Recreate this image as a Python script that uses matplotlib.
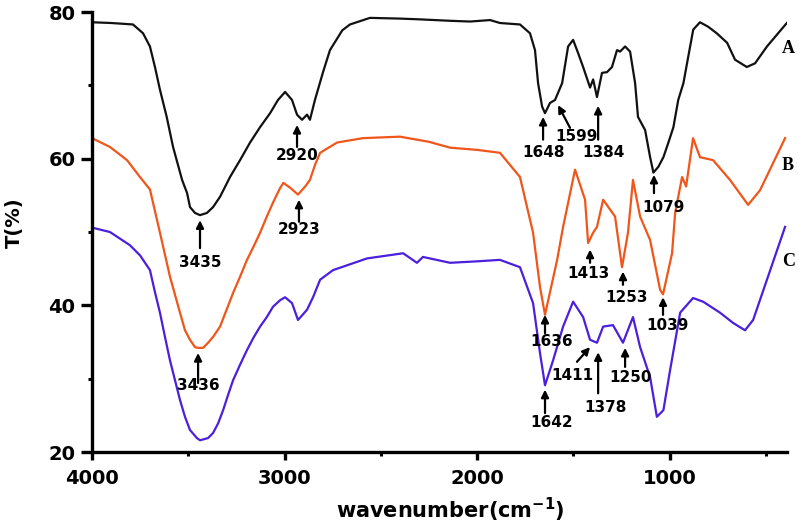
import matplotlib
matplotlib.use("Agg")
import matplotlib.pyplot as plt
from matplotlib.ticker import MultipleLocator

# ---------------- data ----------------
A_wn = [4000, 3900, 3787, 3735, 3699, 3673, 3647, 3612, 3579, 3532, 3506, 3491, 3465, 3439, 3403,
        3371, 3335, 3283, 3231, 3179, 3127, 3075, 3034,
        2997, 2961, 2935, 2909, 2883, 2868, 2842, 2800, 2764, 2700, 2660, 2556, 2400, 2300, 2140, 2036,
        1932, 1881, 1777, 1725, 1699, 1683, 1662, 1647, 1621, 1595, 1558, 1527, 1501, 1475, 1449,
        1413, 1397, 1377, 1351, 1325, 1299, 1273, 1257, 1231, 1205, 1179, 1164, 1127, 1101, 1084,
        1058, 1032, 1006, 980, 955, 928, 903, 877, 842, 800, 755, 701, 660, 599, 556, 494, 391]
A_T = [78.6, 78.5, 78.3, 77.1, 75.3, 72.5, 69.4, 65.7, 61.6, 57.1, 55.3, 53.4, 52.6, 52.3, 52.6,
       53.4, 54.8, 57.5, 59.8, 62.2, 64.3, 66.2, 68.0,
       69.1, 68.0, 66.0, 65.3, 66.0, 65.3, 68.0, 71.8, 74.8, 77.5, 78.3, 79.2, 79.1, 79.0, 78.8, 78.7,
       78.9, 78.5, 78.3, 77.1, 74.8, 70.3, 67.1, 66.2, 67.6, 68.0, 70.3, 75.3, 76.2, 74.4, 72.5,
       69.7, 70.8, 68.4, 71.7, 71.8, 72.5, 74.8, 74.6, 75.3, 74.6, 70.3, 65.7, 63.9, 60.2, 58.1,
       58.9, 60.2, 62.2, 64.3, 68.0, 70.3, 73.9, 77.6, 78.6, 78.0, 77.1, 75.8, 73.5, 72.5, 73.0,
       75.3, 78.5]

B_wn = [4000, 3907, 3818, 3751, 3699, 3647, 3595, 3543, 3517, 3491, 3465, 3449, 3423, 3397, 3371,
        3335, 3301, 3267, 3231, 3195, 3161, 3127, 3092, 3060, 3023,
        3006, 2969, 2930, 2893, 2868, 2841, 2815, 2727, 2592, 2400, 2250, 2140, 2000, 1881, 1777,
        1709, 1673, 1647, 1584, 1553, 1491, 1439, 1423, 1397, 1377, 1345, 1283, 1247, 1216, 1190,
        1153, 1101, 1049, 1034, 987, 971, 935, 914, 878, 842, 774, 686, 592, 530, 400]
B_T = [62.8, 61.6, 59.8, 57.5, 55.8, 49.9, 43.9, 39.0, 36.6, 35.3, 34.3, 34.2, 34.2, 34.9, 35.7,
       37.1, 39.4, 41.7, 43.9, 46.2, 48.0, 49.9, 52.1, 54.0, 56.0,
       56.7, 56.0, 55.1, 56.2, 57.1, 59.2, 60.8, 62.2, 62.8, 63.0, 62.3, 61.5, 61.2, 60.8, 57.5,
       49.9, 42.5, 38.7, 46.2, 50.7, 58.5, 54.4, 48.5, 49.9, 50.7, 54.4, 52.1, 45.2, 49.9, 57.1,
       52.1, 48.9, 42.1, 41.5, 47.1, 52.6, 57.5, 56.2, 62.8, 60.2, 59.8, 57.1, 53.7, 55.7, 62.8]

C_wn = [4000, 3907, 3803, 3750, 3699, 3673, 3647, 3621, 3595, 3569, 3543, 3517, 3491, 3455, 3439,
        3397, 3371, 3345, 3319, 3293, 3267, 3231, 3195, 3161, 3127, 3092, 3060, 3023,
        2997, 2961, 2930, 2883, 2852, 2815, 2748, 2571, 2384, 2312, 2281, 2140, 2000, 1881, 1777,
        1709, 1673, 1647, 1605, 1553, 1501, 1449, 1413, 1377, 1345, 1294, 1242, 1190, 1153, 1101,
        1066, 1032, 997, 945, 878, 826, 738, 670, 608, 566, 400]
C_T = [50.6, 50.0, 48.2, 46.8, 44.8, 41.8, 39.0, 35.7, 32.5, 29.8, 27.1, 24.8, 23.0, 21.9, 21.6,
       21.9, 22.6, 23.9, 25.7, 27.8, 29.8, 31.9, 33.9, 35.6, 37.1, 38.4, 39.8, 40.7,
       41.1, 40.3, 38.0, 39.4, 41.1, 43.5, 44.8, 46.4, 47.1, 45.8, 46.6, 45.8, 46.0, 46.2, 45.2,
       40.3, 33.5, 29.1, 32.5, 37.1, 40.5, 38.4, 35.3, 34.9, 37.1, 37.3, 34.9, 38.4, 34.3, 30.2,
       24.8, 25.7, 31.2, 39.0, 41.0, 40.5, 39.0, 37.6, 36.6, 38.0, 50.7]

# peak labels: (text, head_wn, head_T, tail_wn, tail_T, text_wn, text_T)
peak_labels = ["3435", "2920", "2923", "3436", "1648", "1599", "1384", "1079",
               "1413", "1253", "1039", "1636", "1411", "1378", "1250", "1642"]
head_wn = [3439, 2935, 2925, 3449, 1657, 1579, 1371, 1081, 1413, 1242, 1034, 1647, 1413, 1371, 1231, 1647]
head_T = [51.6, 64.6, 54.4, 33.5, 65.7, 67.3, 67.2, 57.8, 47.6, 44.6, 41.1, 38.7, 34.3, 33.6, 34.2, 28.5]
tail_wn = [3439, 2935, 2925, 3449, 1657, 1517, 1371, 1081, 1413, 1242, 1034, 1647, 1481, 1371, 1231, 1647]
tail_T = [47.8, 61.6, 51.4, 29.4, 62.6, 64.2, 62.6, 55.3, 45.8, 42.8, 38.7, 36.2, 32.3, 28.0, 31.6, 25.3]
text_wn = [3439, 2935, 2925, 3449, 1657, 1481, 1345, 1034, 1423, 1221, 1013, 1610, 1506, 1335, 1205, 1610]
text_T = [45.9, 60.5, 50.3, 29.1, 60.8, 63.0, 60.9, 53.3, 44.4, 41.1, 37.2, 35.0, 30.5, 26.1, 30.2, 24.0]

curve_names = ["A", "B", "C"]
x_ticks = [4000, 3000, 2000, 1000]
y_ticks = [20, 40, 60, 80]

# ---------------- plot ----------------
W, H = 799, 531
fig = plt.figure(figsize=(W / 100, H / 100), dpi=100)
ax = fig.add_axes([92 / W, 1 - 452 / H, (787 - 92) / W, (452 - 12) / H])

colors = ["#111111", "#F0561A", "#4B1FDC"]
for wn, T, c in zip([A_wn, B_wn, C_wn], [A_T, B_T, C_T], colors):
    ax.plot(wn, T, color=c, lw=1.6, solid_joinstyle="round")

for i, lab in enumerate(peak_labels):
    ax.annotate("", xy=(head_wn[i], head_T[i]), xytext=(tail_wn[i], tail_T[i]),
                arrowprops=dict(arrowstyle="-|>", color="black", lw=1.6,
                                mutation_scale=11, shrinkA=0, shrinkB=0))
    ax.text(text_wn[i], text_T[i], lab, ha="center", va="center",
            fontsize=11, fontweight="bold", color="black")

ax.set_xlim(4000, 390)
ax.set_ylim(20, 80)
ax.set_xticks(x_ticks)
ax.set_yticks(y_ticks)
ax.xaxis.set_minor_locator(MultipleLocator(500))
ax.yaxis.set_minor_locator(MultipleLocator(10))
for s in ["top", "right"]:
    ax.spines[s].set_visible(False)
for s in ["left", "bottom"]:
    ax.spines[s].set_linewidth(2.4)
ax.tick_params(axis="both", which="major", direction="out", width=2.4, labelsize=14)
ax.tick_params(axis="y", which="major", length=8, pad=4)
ax.tick_params(axis="x", which="major", length=6, pad=6)
ax.tick_params(axis="both", which="minor", direction="out", length=3, width=2.2)
for lbl in ax.get_xticklabels() + ax.get_yticklabels():
    lbl.set_fontweight("bold")

fig.text(450 / W, 1 - 510 / H, "wavenumber(cm$^{\\mathbf{-1}}$)", ha="center", va="center",
         fontsize=15, fontweight="bold")
fig.text(14 / W, 1 - 223 / H, "T(%)", ha="center", va="center", rotation=90,
         fontsize=14, fontweight="bold")

for name, ypix in zip(curve_names, [48, 165, 262]):
    fig.text(782 / W, 1 - ypix / H, name, ha="left", va="center", fontsize=13,
             fontweight="bold", family="Liberation Serif")

fig.savefig("out.png", dpi=100)
